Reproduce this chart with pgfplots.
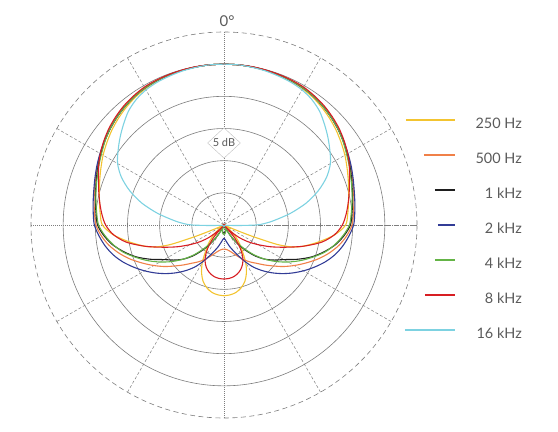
\documentclass[border=0pt]{standalone}
\usepackage{fontspec}
\setmainfont{Lato}
\usepackage{pgfplots}
\usepackage{pgfplotstable}
\pgfplotsset{compat=1.18}
\usepgfplotslibrary{polar}
\usetikzlibrary{shapes.geometric}

\definecolor{c250}{RGB}{243,196,48}
\definecolor{c500}{RGB}{240,128,72}
\definecolor{c1k}{RGB}{30,30,30}
\definecolor{c2k}{RGB}{50,60,150}
\definecolor{c4k}{RGB}{100,180,70}
\definecolor{c8k}{RGB}{215,30,35}
\definecolor{c16k}{RGB}{125,210,225}
\definecolor{txt}{RGB}{90,90,90}
\definecolor{grd}{RGB}{125,125,125}

% legend line that ends at the text column, with its own length
\pgfplotsset{limg/.style={legend image code/.code={\draw[##1, line width=1.5bp] (-#1,4bp) -- (0bp,4bp);}}}

% angle from the front (deg), radius in grid rings (5 dB each)
\pgfplotstableread{
theta r
0 5.00
5 5.00
10 4.99
15 4.98
20 4.96
25 4.93
30 4.89
35 4.83
40 4.75
45 4.66
50 4.56
55 4.45
60 4.34
65 4.22
70 4.11
75 4.01
80 3.93
85 3.86
90 3.78
95 3.46
100 3.00
105 2.55
108 2.20
110 1.78
111 1.30
112 0.85
113 0.40
115 0.06
120 0.03
125 0.04
130 0.25
135 0.50
140 0.75
145 1.00
150 1.35
155 1.65
160 1.88
165 2.03
170 2.13
175 2.18
180 2.20
}\tabA

\pgfplotstableread{
theta r
0 5.00
5 5.00
10 4.99
15 4.98
20 4.97
25 4.95
30 4.92
35 4.87
40 4.80
45 4.72
50 4.63
55 4.53
60 4.44
65 4.34
70 4.25
75 4.17
80 4.10
85 4.04
90 3.98
95 3.83
100 3.63
105 3.38
110 3.10
115 2.80
120 2.52
125 2.25
130 1.98
135 1.75
140 1.55
145 1.40
150 1.25
155 1.10
160 0.97
165 0.87
170 0.80
175 0.76
180 0.75
}\tabB

\pgfplotstableread{
theta r
0 5.00
5 5.00
10 4.99
15 4.98
20 4.97
25 4.95
30 4.92
35 4.87
40 4.80
45 4.72
50 4.63
55 4.53
60 4.42
65 4.32
70 4.22
75 4.13
80 4.06
85 3.99
90 3.93
95 3.75
100 3.52
105 3.22
110 2.90
115 2.52
120 2.15
125 1.90
130 1.65
135 1.35
140 1.00
145 0.65
150 0.30
153 0.05
160 0.12
165 0.18
170 0.22
175 0.24
180 0.25
}\tabC

\pgfplotstableread{
theta r
0 5.00
5 5.00
10 4.99
15 4.98
20 4.97
25 4.95
30 4.92
35 4.87
40 4.80
45 4.72
50 4.63
55 4.54
60 4.45
65 4.36
70 4.27
75 4.19
80 4.13
85 4.08
90 4.03
95 3.90
100 3.75
105 3.57
110 3.35
115 3.10
120 2.85
125 2.60
130 2.35
135 2.10
140 1.85
145 1.60
150 1.32
155 1.05
160 0.85
165 0.70
170 0.56
175 0.46
180 0.41
}\tabD

\pgfplotstableread{
theta r
0 5.00
5 5.00
10 4.99
15 4.98
20 4.97
25 4.95
30 4.92
35 4.87
40 4.80
45 4.72
50 4.63
55 4.52
60 4.40
65 4.30
70 4.20
75 4.12
80 4.04
85 3.97
90 3.90
95 3.72
100 3.50
105 3.25
110 2.93
115 2.62
120 2.30
125 1.98
130 1.65
135 1.30
140 0.93
145 0.60
150 0.30
155 0.08
160 0.15
165 0.20
170 0.25
175 0.28
180 0.30
}\tabE

\pgfplotstableread{
theta r
0 5.00
5 5.00
10 5.00
15 4.99
20 4.98
25 4.97
30 4.95
35 4.90
40 4.84
45 4.76
50 4.67
55 4.56
60 4.44
65 4.30
70 4.15
75 4.03
80 3.92
85 3.81
90 3.68
95 3.45
100 3.08
105 2.55
110 2.02
115 1.60
120 1.22
125 0.90
130 0.58
135 0.24
137 0.03
140 0.50
145 0.88
150 1.17
155 1.36
160 1.49
165 1.58
170 1.64
175 1.67
180 1.68
}\tabF

\pgfplotstableread{
theta r
0 5.00
5 5.00
10 4.98
15 4.96
20 4.93
25 4.90
30 4.85
35 4.76
40 4.62
45 4.42
50 4.22
55 4.02
60 3.82
65 3.52
70 3.12
75 2.65
80 2.10
85 1.55
88 1.25
90 1.00
92 0.45
95 0.12
100 0.05
120 0.04
150 0.04
180 0.04
}\tabG

\begin{document}
\begin{tikzpicture}
\useasboundingbox (-224bp,-207bp) rectangle (334bp,225bp);
\begin{polaraxis}[
  at={(0,0)}, anchor=center,
  width=386bp, height=386bp, scale only axis,
  clip=false,
  ymin=0, ymax=6,
  xtick={30,60,120,150,210,240,300,330},
  minor xtick={0,90,180,270},
  ytick={1,2,3,4,5},
  xticklabel style={opacity=0}, yticklabel style={opacity=0},
  major tick length=0pt, minor tick length=0pt,
  xmajorgrids=true, xminorgrids=true, ymajorgrids=true,
  major x grid style={grd, line width=0.5bp, dash pattern=on 3bp off 2bp},
  minor x grid style={grd, line width=0.5bp, dash pattern=on 1bp off 1bp},
  major y grid style={grd, line width=0.6bp},
  axis line style={grd, line width=0.6bp, dash pattern=on 5bp off 3.5bp},
  every axis plot/.append style={line width=1.1bp, smooth},
  legend cell align=right,
  legend style={at={(1.272,0.5)}, anchor=east, yshift=-4bp,
    draw=none, fill=none,
    inner sep=0pt, row sep=21bp, column sep=20bp,
    font=\fontsize{14.5}{14.5}\selectfont, text=txt,
    nodes={inner sep=0pt, text height=11bp, text depth=3bp}},
]
\addplot[c250, limg=49bp] table[x expr=90+\thisrow{theta}, y=r] {\tabA};
\addlegendentry{250 Hz}
\addplot[c250, forget plot] table[x expr=90-\thisrow{theta}, y=r] {\tabA};

\addplot[c500, limg=31bp] table[x expr=90+\thisrow{theta}, y=r] {\tabB};
\addlegendentry{500 Hz}
\addplot[c500, forget plot] table[x expr=90-\thisrow{theta}, y=r] {\tabB};

\addplot[c1k, limg=20bp] table[x expr=90+\thisrow{theta}, y=r] {\tabC};
\addlegendentry{1 kHz}
\addplot[c1k, forget plot] table[x expr=90-\thisrow{theta}, y=r] {\tabC};

\addplot[c2k, limg=17bp] table[x expr=90+\thisrow{theta}, y=r] {\tabD};
\addlegendentry{2 kHz}
\addplot[c2k, forget plot] table[x expr=90-\thisrow{theta}, y=r] {\tabD};

\addplot[c4k, limg=20bp] table[x expr=90+\thisrow{theta}, y=r] {\tabE};
\addlegendentry{4 kHz}
\addplot[c4k, forget plot] table[x expr=90-\thisrow{theta}, y=r] {\tabE};

\addplot[c8k, limg=30bp] table[x expr=90+\thisrow{theta}, y=r] {\tabF};
\addlegendentry{8 kHz}
\addplot[c8k, forget plot] table[x expr=90-\thisrow{theta}, y=r] {\tabF};

\addplot[c16k, limg=50bp] table[x expr=90+\thisrow{theta}, y=r] {\tabG};
\addlegendentry{16 kHz}
\addplot[c16k, forget plot] table[x expr=90-\thisrow{theta}, y=r] {\tabG};

\node[diamond, draw=black!25, fill=white, text=txt, inner sep=0pt,
  minimum width=33bp, minimum height=30bp,
  font=\fontsize{11}{11}\selectfont] at (axis cs:90,2.55) {5 dB};
\node[anchor=south, text=txt, inner sep=0pt, yshift=5bp,
  font=\fontsize{15}{15}\selectfont] at (axis cs:90,6) {0\rlap{°}};
\end{polaraxis}
\end{tikzpicture}
\end{document}
